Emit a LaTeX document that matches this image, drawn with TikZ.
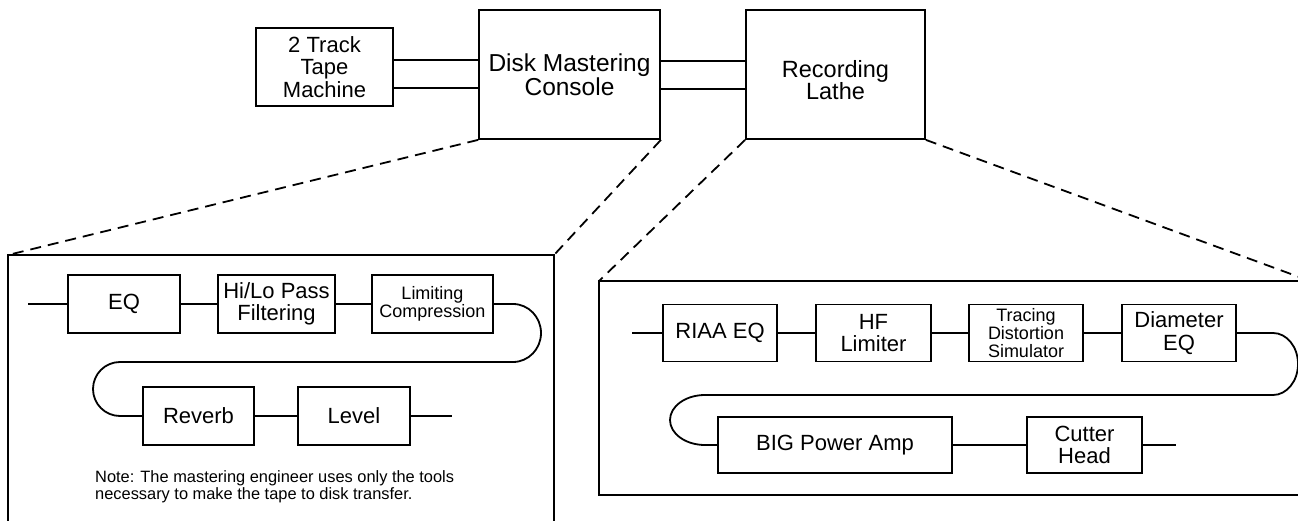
\documentclass[tikz,border=0pt]{standalone}
\usepackage{fontspec}
\setmainfont{Liberation Sans}
\begin{document}
\begin{tikzpicture}[x=1pt,y=-1pt,
  blk/.style={draw, line width=1.8pt, inner sep=0pt, align=center},
  txtL/.style={font=\fontsize{22}{22.5}\selectfont, align=center},
  txtM/.style={font=\fontsize{18}{17.5}\selectfont, align=center},
  wire/.style={line width=1.8pt},
  zoomline/.style={line width=1.8pt, dash pattern=on 11pt off 7pt},
  panel/.style={line width=2pt}]
\useasboundingbox (0,0) rectangle (1298,521);
\clip (0,0) rectangle (1298,521);

% ---- top row ----
\node[blk,txtL,minimum width=137pt,minimum height=78pt] (tape) at (324.5,67) {2 Track\\Tape\\Machine};
\node[blk,font=\fontsize{24.5}{20.5}\selectfont,minimum width=181pt,minimum height=129pt] (dmc) at (569.5,74.5) {Disk Mastering\\Console};
\node[blk,minimum width=179pt,minimum height=129pt] (lathe) at (835.5,74.5) {};
\node[font=\fontsize{23.5}{22}\selectfont, align=center] (lathetxt) at (835.5,80) {Recording\\Lathe};

\draw[wire] (tape.east |- 0,60) -- (dmc.west |- 0,60);
\draw[wire] (tape.east |- 0,88) -- (dmc.west |- 0,88);
\draw[wire] (dmc.east |- 0,61) -- (lathe.west |- 0,61);
\draw[wire] (dmc.east |- 0,89) -- (lathe.west |- 0,89);

% ---- panels ----
\coordinate (lpTL) at (8,255);
\coordinate (lpTR) at (554,255);
\draw[panel] (8,540) -- (lpTL) -- (lpTR) -- (554,540);
\coordinate (rpTL) at (599,281);
\coordinate (rpTR) at (1310,281);
\draw[panel] (1330,495) -- (599,495) -- (rpTL) -- (1330,281);

\draw[zoomline] (dmc.south west) -- (lpTL);
\draw[zoomline] (dmc.south east) -- (lpTR);
\draw[zoomline] (lathe.south west) -- (rpTL);
\draw[zoomline] (lathe.south east) -- (rpTR);

% ---- left panel ----
\coordinate (lin) at (28,304);
\node[blk,txtL,minimum width=112pt,minimum height=58pt] (eq) at (124,304) {EQ};
\node[blk,txtL,minimum width=117pt,minimum height=58pt] (hilo) at (276.5,304) {Hi/Lo Pass\\Filtering};
\node[blk,txtM,minimum width=121pt,minimum height=58pt] (lim) at (432.5,304) {Limiting\\Compression};
\node[blk,txtL,minimum width=111pt,minimum height=58pt] (rev) at (198.5,416) {Reverb};
\node[blk,txtL,minimum width=112pt,minimum height=58pt] (lev) at (354,416) {Level};
\coordinate (lout) at (452,416);

\draw[wire] (lin) -- (eq) -- (hilo) -- (lim);
\draw[wire] (lim.east) -- (513,304)
  arc[start angle=90,end angle=-90,x radius=28pt,y radius=29pt]
  -- (120,362)
  arc[start angle=90,end angle=270,x radius=27pt,y radius=27pt]
  -- (rev.west);
\draw[wire] (rev) -- (lev) -- (lout);

\node[font=\fontsize{16.4}{17}\selectfont, align=left, anchor=west, inner sep=0pt] (note) at (95,486.5)
  {Note: The mastering engineer uses only the tools\\necessary to make the tape to disk transfer.};

% ---- right panel ----
\coordinate (rin) at (632,333);
\node[blk,txtL,minimum width=114pt,minimum height=57pt] (riaa) at (720,333) {RIAA EQ};
\node[blk,txtL,minimum width=115pt,minimum height=57pt] (hf) at (873.5,333) {HF\\Limiter};
\node[blk,font=\fontsize{18}{18}\selectfont,minimum width=114pt,minimum height=57pt] (trac) at (1026,333) {Tracing\\Distortion\\Simulator};
\node[blk,txtL,minimum width=114pt,minimum height=57pt] (diam) at (1179,333) {Diameter\\EQ};
\node[blk,txtL,minimum width=234pt,minimum height=56pt] (bigamp) at (835,445) {BIG Power Amp};
\node[blk,txtL,minimum width=115pt,minimum height=56pt] (cutter) at (1084.5,445) {Cutter\\Head};
\coordinate (rout) at (1176,445);

\draw[wire] (rin) -- (riaa) -- (hf) -- (trac) -- (diam);
\draw[wire] (diam.east) -- (1273,333)
  arc[start angle=90,end angle=-90,x radius=25pt,y radius=31pt]
  -- (705,395)
  arc[start angle=90,end angle=270,x radius=35pt,y radius=25pt]
  -- (bigamp.west);
\draw[wire] (bigamp) -- (cutter) -- (rout);
\end{tikzpicture}
\end{document}
